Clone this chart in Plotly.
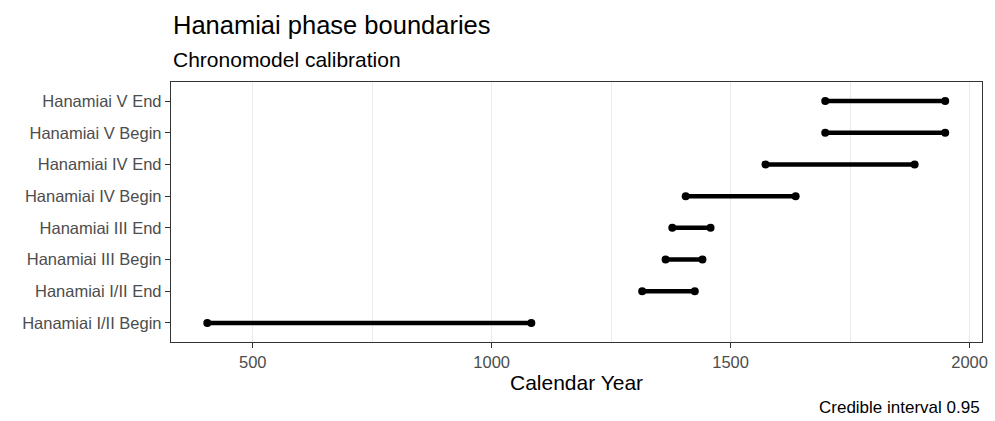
import plotly.graph_objects as go

phases = ["Hanamiai I/II Begin", "Hanamiai I/II End", "Hanamiai III Begin",
          "Hanamiai III End", "Hanamiai IV Begin", "Hanamiai IV End",
          "Hanamiai V Begin", "Hanamiai V End"]
lower = [405, 1315, 1364, 1378, 1406, 1573, 1698, 1698]
upper = [1083, 1425, 1441, 1458, 1636, 1885, 1949, 1949]
x_ticks = [500, 1000, 1500, 2000]
x_minor = [750, 1250, 1750]

FONT = "Liberation Sans, Arial, Helvetica, sans-serif"
W, H = 995, 421
L, R, T, B = 171, 7, 82, 79
ph = H - T - B

def py(ypx):
    return (H - B - ypx) / ph

fig = go.Figure()
for p, lo, hi in zip(phases, lower, upper):
    fig.add_trace(go.Scatter(x=[lo, hi], y=[p, p], mode="lines+markers",
                             line=dict(color="black", width=4.5),
                             marker=dict(color="black", size=8),
                             showlegend=False, hoverinfo="x+y"))

fig.update_layout(
    width=W, height=H,
    margin=dict(l=L, r=R, t=T, b=B),
    paper_bgcolor="white", plot_bgcolor="white",
    font=dict(family=FONT, color="black"),
    xaxis=dict(range=[329, 2026], tickvals=x_ticks, ticktext=[str(v) for v in x_ticks],
               showgrid=True, gridcolor="#ebebeb", gridwidth=1.4,
               minor=dict(tickvals=x_minor, showgrid=True, gridcolor="#ebebeb", gridwidth=0.8, ticks=""),
               showline=True, mirror=True, linecolor="#333333", linewidth=1.3,
               ticks="outside", ticklen=5, tickcolor="#333333", tickwidth=1.3,
               tickfont=dict(size=16.5, color="#4d4d4d", family=FONT),
               zeroline=False),
    yaxis=dict(type="category", categoryorder="array", categoryarray=phases,
               range=[-0.6, 7.6], showgrid=False,
               showline=True, mirror=True, linecolor="#333333", linewidth=1.3,
               ticks="outside", ticklen=5, tickcolor="#333333", tickwidth=1.3,
               tickfont=dict(size=16.5, color="#4d4d4d", family=FONT),
               zeroline=False),
)

fig.add_annotation(text="Hanamiai phase boundaries", xref="paper", yref="paper",
                   x=0, y=py(25), xanchor="left", yanchor="middle", showarrow=False,
                   font=dict(size=25.5, color="black", family=FONT))
fig.add_annotation(text="Chronomodel calibration", xref="paper", yref="paper",
                   x=0, y=py(59), xanchor="left", yanchor="middle", showarrow=False,
                   font=dict(size=21, color="black", family=FONT))
fig.add_annotation(text="Calendar Year", xref="paper", yref="paper",
                   x=0.5, y=py(383), xanchor="center", yanchor="middle", showarrow=False,
                   font=dict(size=21, color="black", family=FONT))
fig.add_annotation(text="Credible interval 0.95", xref="paper", yref="paper",
                   x=1, y=py(407), xanchor="right", yanchor="middle", showarrow=False,
                   font=dict(size=17, color="black", family=FONT))

fig.write_html("out.html")
